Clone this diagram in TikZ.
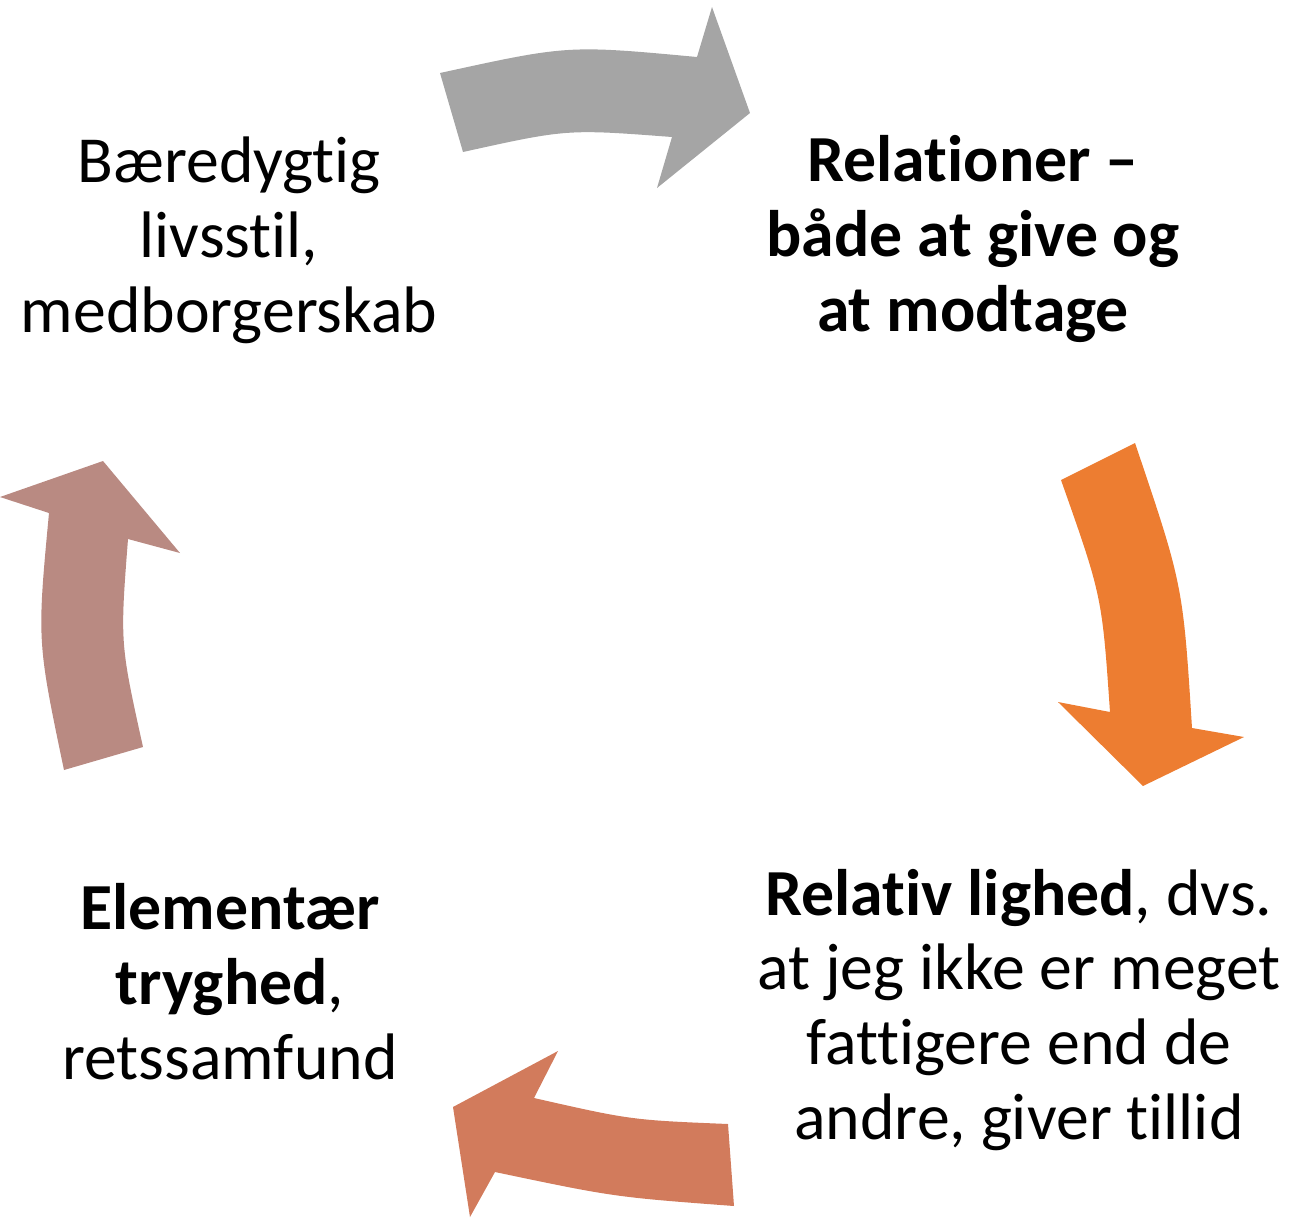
\documentclass[tikz,border=0pt]{standalone}
\usepackage{fontspec}
\setmainfont{Carlito}[Ligatures={NoCommon}]
\usepackage{tikz}

\definecolor{arrgray}{HTML}{A5A5A5}
\definecolor{arrorange}{HTML}{ED7D31}
\definecolor{arrbrick}{HTML}{D27B5C}
\definecolor{arrrose}{HTML}{B98A82}

\begin{document}
\begin{tikzpicture}[x=0.01cm, y=-0.01cm,
		cyctext/.style={align=center, inner sep=0pt, font=\fontsize{18.7}{21.3}\selectfont}]
			\useasboundingbox (0,0) rectangle (1314,1217);
			
			% Texts of the cycle
			\node[cyctext] (livsstil) at (229,240) {Bæredygtig\\livsstil,\\medborgerskab};
			\node[cyctext, font=\fontsize{18.7}{21.3}\selectfont\bfseries] (relationer) at (973,239) {Relationer --\\både at give og\\at modtage};
			\node[cyctext] (lighed) at (1019,1010) {\textbf{Relativ lighed}, dvs.\\at jeg ikke er meget\\fattigere end de\\andre, giver tillid};
			\node[cyctext] (tryghed) at (230,982) {\textbf{Elementær}\\\textbf{tryghed},\\retssamfund};
			
			% Top arrow
			\fill[arrgray] (440,73) .. controls (568,45) .. (697,57) -- (712,7) -- (750,113) -- (657,188)
				-- (672,137) .. controls (567,129) .. (463,152) -- cycle;
			
			% Right arrow
			\fill[arrorange] (1135,443) .. controls (1183,585) .. (1192,728) -- (1244,737) -- (1143,786) -- (1058,702)
				-- (1110,712) .. controls (1102,596) .. (1061,480) -- cycle;
			
			% Bottom arrow
			\fill[arrbrick] (728,1124) .. controls (631,1120) .. (534,1098) -- (558,1051) -- (453,1107) -- (470,1217)
				-- (495,1172) .. controls (614,1197) .. (734,1206) -- cycle;
			
			% Left arrow
			\fill[arrrose] (64,770) .. controls (37,641) .. (49,513) -- (0,497) -- (103,461) -- (180,553)
				-- (128,539) .. controls (120,643) .. (143,747) -- cycle;
		\end{tikzpicture}
\end{document}
